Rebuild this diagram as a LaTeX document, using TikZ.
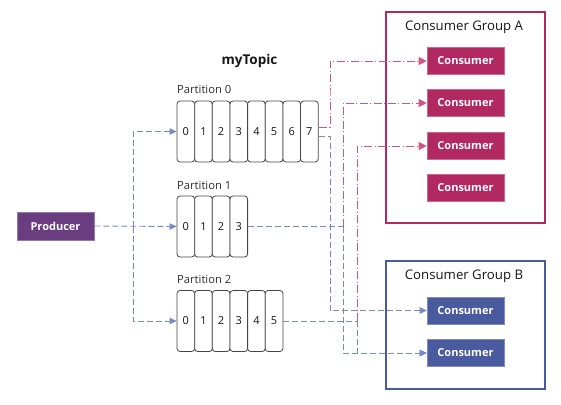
\documentclass[tikz,border=0pt]{standalone}
\usepackage{fontspec}
\setmainfont{Open Sans}
\usetikzlibrary{arrows.meta,calc}
\definecolor{magA}{RGB}{178,40,96}
\definecolor{bluB}{RGB}{74,90,158}
\definecolor{prodc}{RGB}{105,61,128}
\definecolor{bline}{RGB}{118,138,200}
\definecolor{rline}{RGB}{208,84,132}
\definecolor{txt}{RGB}{22,22,22}
\definecolor{cellb}{RGB}{70,70,70}
\tikzset{
  cell/.style={draw=cellb, line width=0.8pt, rounded corners=3pt, fill=white,
    minimum width=17.65pt, minimum height=61pt, inner sep=0pt,
    font=\fontsize{11}{12}\selectfont, text=txt},
  consA/.style={fill=magA, draw=magA!70!white, line width=0.6pt, minimum width=77pt, minimum height=27pt,
    inner sep=0pt, text=white, font=\bfseries\fontsize{11}{12}\selectfont},
  consB/.style={consA, fill=bluB, draw=bluB!70!white},
  prodbox/.style={consA, fill=prodc, draw=prodc!70!white, minimum height=28pt},
  grp/.style={draw, line width=2.6pt, inner sep=0pt, fill=none},
  ptitle/.style={font=\fontsize{11.2}{13}\selectfont, text=txt!90, anchor=west, inner sep=0pt},
  gtitle/.style={font=\fontsize{13.2}{15}\selectfont, text=txt, inner sep=0pt},
  bl/.style={draw=bline, line width=0.9pt, dash pattern=on 6pt off 3pt},
  bla/.style={bl, -{Triangle[length=7pt,width=6.5pt]}},
  rl/.style={draw=rline, line width=0.9pt, dash pattern=on 8pt off 2.5pt on 1pt off 2.5pt},
  rla/.style={rl, -{Triangle[length=8pt,width=8pt]}},
}
\begin{document}
\begin{tikzpicture}[x=1pt,y=-1pt]
\useasboundingbox (0,0) rectangle (561,404);
% groups
\node[grp, draw=magA, minimum width=159pt, minimum height=211pt] (ga) at (465.5,117.5) {};
\node[grp, draw=bluB, minimum width=159pt, minimum height=128pt] (gb) at (465.5,325) {};
\node[gtitle] (gat) at (464,27) {Consumer Group A};
\node[gtitle] (gbt) at (464,276) {Consumer Group B};
% consumers
\node[consA] (a1) at (465.5,61) {Consumer};
\node[consA] (a2) at (465.5,103) {Consumer};
\node[consA] (a3) at (465.5,146) {Consumer};
\node[consA] (a4) at (465.5,188) {Consumer};
\node[consB] (b1) at (465.5,310.5) {Consumer};
\node[consB] (b2) at (465.5,353) {Consumer};
% producer
\node[prodbox] (prod) at (55.5,226) {Producer};
% topic
\node[font=\bfseries\fontsize{13.5}{15}\selectfont, text=txt, inner sep=0pt] (topic) at (249.5,61) {myTopic};
\node[ptitle] (pt0) at (177,89) {Partition 0};
\node[ptitle] (pt1) at (177,185) {Partition 1};
\node[ptitle] (pt2) at (177,279) {Partition 2};
\foreach \i in {0,...,7} \node[cell] (p0c\i) at ({177+17.65*(\i+0.5)},131.5) {\i};
\foreach \i in {0,...,3} \node[cell] (p1c\i) at ({177+17.65*(\i+0.5)},226.5) {\i};
\foreach \i in {0,...,5} \node[cell] (p2c\i) at ({177+17.65*(\i+0.5)},321) {\i};
% producer connectors
\coordinate (pj) at (133,226.5);
\draw[bla] (prod.east) -- (p1c0.west);
\draw[bla] (pj) |- (p0c0.west);
\draw[bla] (pj) |- (p2c0.west);
% partition 0
\coordinate (k0r) at (330,90);
\coordinate (k0b) at (330,200);
\draw[rla] ([yshift=4.5pt]p0c7.east) -| (k0r) |- (a1.west);
\draw[bla] ([yshift=-4.5pt]p0c7.east) -| (k0b) |- (b1.west);
% partition 1
\path (p1c3.east) ++(95,0) coordinate (k1);
\draw[bl] (p1c3.east) -- (k1);
\draw[rla] (k1) |- (a2.west);
\draw[bla] (k1) |- (b2.west);
% partition 2
\path (p2c5.east) ++(74,0) coordinate (k2);
\draw[bl] (p2c5.east) -- (k2);
\draw[rla] (k2) |- (a3.west);
\draw[bla] (k2) |- (b2.west);
\end{tikzpicture}
\end{document}
